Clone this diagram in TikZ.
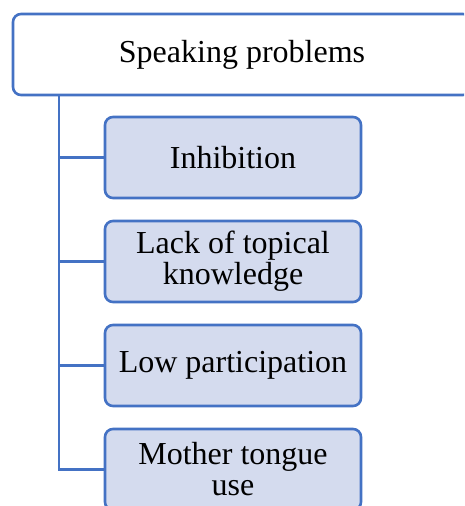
\documentclass[tikz,border=0pt]{standalone}
\usepackage{fontspec}
\setmainfont{Liberation Serif}
\definecolor{boxline}{RGB}{68,114,196}
\definecolor{boxfill}{RGB}{212,219,238}
\begin{document}
\begin{tikzpicture}[x=1pt, y=-1pt,
        head/.style={draw=boxline, line width=2.6pt, rounded corners=8pt, fill=white,
            minimum width=458pt, minimum height=81pt, font=\fontsize{32}{31}\selectfont},
        item/.style={draw=boxline, line width=2.6pt, rounded corners=8pt, fill=boxfill,
            minimum width=256pt, minimum height=81pt, align=center,
            font=\fontsize{32}{31}\selectfont},
        link/.style={boxline, line width=2.6pt}]
        \clip (0,0) rectangle (464,506);
        \useasboundingbox (0,0) rectangle (464,506);
        \node[head] (S) at (242,54.5) {Speaking problems};
        \node[item] (A) at (233,157.5) {Inhibition};
        \node[item] (B) at (233,261.5) {Lack of topical\\knowledge};
        \node[item] (C) at (233,365.5) {Low participation};
        \node[item] (D) at (233,469.5) {Mother tongue\\use};
        \coordinate (R) at (S.south west -| 59,0);
        \draw[link] (R) |- (A.west);
        \draw[link] (R) |- (B.west);
        \draw[link] (R) |- (C.west);
        \draw[link] (R) |- (D.west);
    \end{tikzpicture}
\end{document}
